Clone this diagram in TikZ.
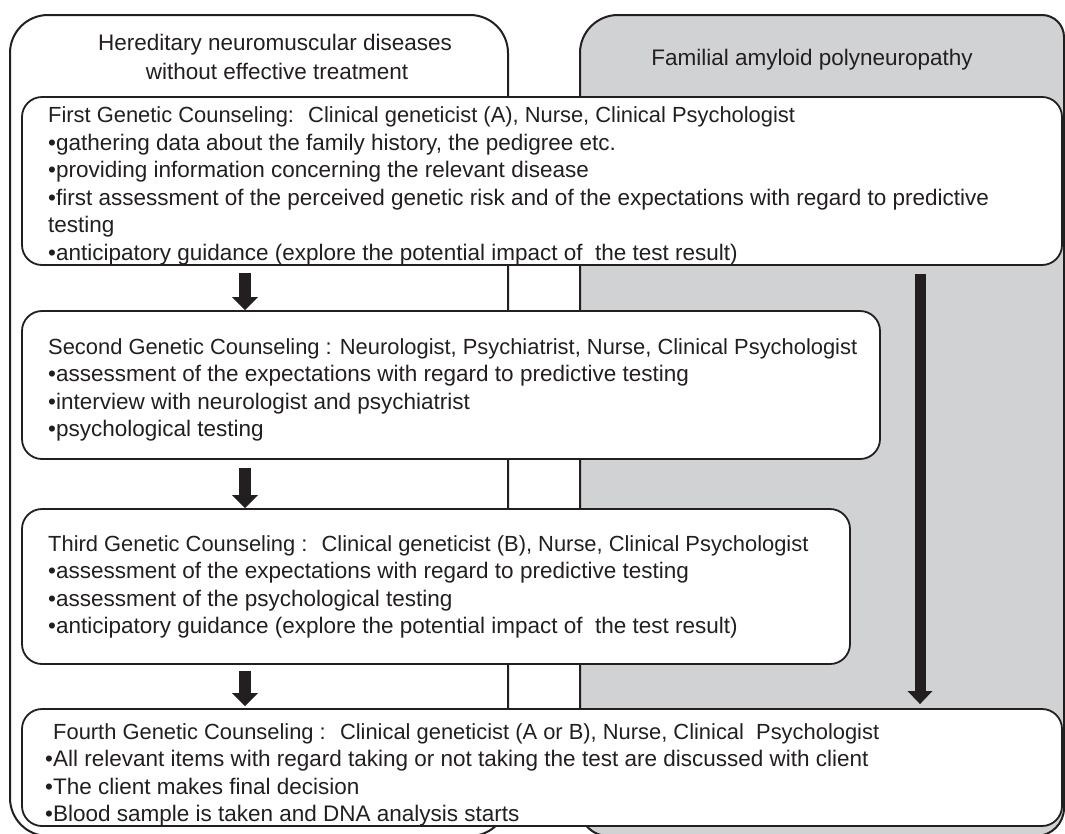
\documentclass[tikz,border=0pt]{standalone}
\usepackage{fontspec}
\setmainfont{Liberation Sans}
\usetikzlibrary{arrows.meta}
\definecolor{ink}{HTML}{231F20}
\definecolor{panel}{HTML}{D1D2D4}
\begin{document}
\begin{tikzpicture}[x=1pt,y=-1pt,
  outer/.style={draw=ink, line width=2pt},
  cbox/.style={draw=ink, line width=1.8pt, fill=white, rounded corners=20pt, inner sep=0pt},
  txt/.style={anchor=base west, inner sep=0pt, text=ink, font=\fontsize{22.5}{27.5}\selectfont},
  ttl/.style={anchor=base west, inner sep=0pt, text=ink, font=\fontsize{21.9}{27.5}\selectfont},
  hdr/.style={anchor=base, inner sep=0pt, text=ink, font=\fontsize{22.5}{27.5}\selectfont},
  flow/.style={draw=ink, line width=12pt, -{Triangle[width=25pt,length=13pt]}},
  longflow/.style={draw=ink, line width=11pt, -{Triangle[width=24pt,length=13pt]}}]
\useasboundingbox (0,0) rectangle (1065,833);
\clip (0,0) rectangle (1065,833);
% columns
\draw[outer, fill=white, rounded corners=38pt] (10,15) rectangle (508,836);
\draw[outer, fill=panel] (580,836) [rounded corners=38pt] -- (580,15) [rounded corners=22pt] -- (1064,15) [rounded corners=28pt] -- (1064,836) -- cycle;
\node[hdr] (h1) at (275,50) {Hereditary neuromuscular diseases};
\node[hdr] (h2) at (277,79) {without effective treatment};
\node[hdr] (h3) at (812,65) {Familial amyloid polyneuropathy};
% boxes
\node[cbox, minimum width=1040pt, minimum height=168pt] (b1) at (542,181) {};
\node[cbox, minimum width=858pt, minimum height=148pt] (b2) at (451,385) {};
\node[cbox, minimum width=828pt, minimum height=155pt] (b3) at (436,586.5) {};
\node[cbox, minimum width=1040pt, minimum height=117pt] (b4) at (542,767.5) {};
% arrows
\coordinate (ax) at (245,0);
\coordinate (bx) at (920,0);
\draw[flow, shorten <=7pt] (b1.south -| ax) -- (b2.north -| ax);
\draw[flow, shorten <=8pt] (b2.south -| ax) -- (b3.north -| ax);
\draw[flow, shorten <=6pt, shorten >=2pt] (b3.south -| ax) -- (b4.north -| ax);
\draw[longflow, shorten <=8pt, shorten >=4pt] (b1.south -| bx) -- (b4.north -| bx);
% box 1 text
\node[ttl] (t11) at (48,122.5) {First Genetic Counseling:~ Clinical geneticist (A), Nurse, Clinical Psychologist};
\node[txt] (t12) at (48,150) {•gathering data about the family history, the pedigree etc.};
\node[txt] (t13) at (48,177.5) {•providing information concerning the relevant disease};
\node[txt] (t14) at (48,205) {•first assessment of the perceived genetic risk and of the expectations with regard to predictive};
\node[txt] (t15) at (48,232.5) {testing};
\node[txt] (t16) at (48,260) {•anticipatory guidance (explore the potential impact of~ the test result)};
% box 2 text
\node[ttl] (t21) at (48,354) {Second Genetic Counseling : Neurologist, Psychiatrist, Nurse, Clinical Psychologist};
\node[txt] (t22) at (48,381.5) {•assessment of the expectations with regard to predictive testing};
\node[txt] (t23) at (48,409) {•interview with neurologist and psychiatrist};
\node[txt] (t24) at (48,436.5) {•psychological testing};
% box 3 text
\node[ttl] (t31) at (48,551) {Third Genetic Counseling :~ Clinical geneticist (B), Nurse, Clinical Psychologist};
\node[txt] (t32) at (48,578.5) {•assessment of the expectations with regard to predictive testing};
\node[txt] (t33) at (48,606) {•assessment of the psychological testing};
\node[txt] (t34) at (48,633.5) {•anticipatory guidance (explore the potential impact of~ the test result)};
% box 4 text
\node[ttl] (t41) at (53,739) {Fourth Genetic Counseling :~ Clinical geneticist (A or B), Nurse, Clinical~ Psychologist};
\node[txt] (t42) at (45,766.5) {•All relevant items with regard taking or not taking the test are discussed with client};
\node[txt] (t43) at (45,794) {•The client makes final decision};
\node[txt] (t44) at (45,821.5) {•Blood sample is taken and DNA analysis starts};
\end{tikzpicture}
\end{document}
